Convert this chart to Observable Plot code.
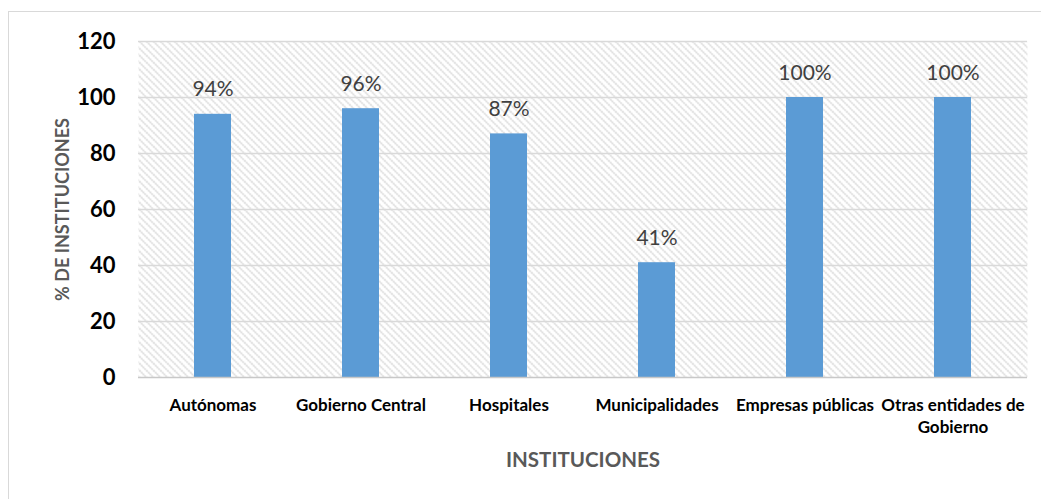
<!DOCTYPE html>
<html>
<head>
<meta charset="utf-8">
<script src="https://cdn.jsdelivr.net/npm/d3@7"></script>
<script src="https://cdn.jsdelivr.net/npm/@observablehq/plot@0.6"></script>
<style>
  html, body { margin: 0; padding: 0; background: #fff; overflow: hidden; }
  #wrap { position: relative; width: 1041px; height: 499px; overflow: hidden; }
  #border { position: absolute; left: 8px; top: 11px; width: 1200px; height: 700px; border: 1.5px solid #d9d9d9; }
  #chart { position: absolute; left: 0; top: 0; }
</style>
</head>
<body>
<div id="wrap"><div id="border"></div><div id="chart"></div></div>
<script>
const categories = ["Autónomas", "Gobierno Central", "Hospitales", "Municipalidades", "Empresas públicas", "Otras entidades de\nGobierno"];
const values = [94, 96, 87, 41, 100, 100];
const valueLabels = ["94%", "96%", "87%", "41%", "100%", "100%"];
const yTicks = [0, 20, 40, 60, 80, 100, 120];
const yTitle = "% DE INSTITUCIONES";
const xTitle = "INSTITUCIONES";

const data = categories.map((c, i) => ({cat: c, value: values[i], label: valueLabels[i]}));
const font = "Lato, 'Open Sans', sans-serif";

const chart = Plot.plot({
  width: 1041,
  height: 499,
  marginLeft: 138,
  marginRight: 14,
  marginTop: 41,
  marginBottom: 122,
  style: {background: "transparent", fontFamily: font, overflow: "visible"},
  x: {domain: categories, paddingInner: 0.75, paddingOuter: 0.375, align: 0.5},
  y: {domain: [0, 120]},
  marks: [
    Plot.frame({fill: "url(#hatch)", stroke: null}),
    Plot.gridY(yTicks.slice(1), {stroke: "#d9d9d9", strokeOpacity: 1, strokeWidth: 1.3}),
    Plot.barY(data, {x: "cat", y: "value", fill: "#5b9bd5"}),
    Plot.ruleY([0], {stroke: "#c8c8c8", strokeWidth: 1.5}),
    Plot.axisY(yTicks, {tickSize: 0, tickPadding: 23, fontSize: 22, fontWeight: "bold", fill: "#000", label: null}),
    Plot.axisX({ticks: [], label: null, tickSize: 0}),
    Plot.text(data, {x: "cat", y: 0, text: "cat", lineAnchor: "top", dy: 18, lineHeight: 1.3, fontSize: 17, fontWeight: "bold", fill: "#000"}),
    Plot.text(data, {x: "cat", y: "value", text: "label", lineAnchor: "bottom", dy: -18, fontSize: 21, fill: "#404040"}),
    Plot.text([yTitle], {frameAnchor: "left", textAnchor: "middle", dx: -75, dy: 0, rotate: -90, fontSize: 18, fontWeight: "bold", fill: "#595959"}),
    Plot.text([xTitle], {frameAnchor: "bottom", dy: 89, fontSize: 20.5, fontWeight: "bold", fill: "#595959"})
  ]
});

const ns = "http://www.w3.org/2000/svg";
const defs = document.createElementNS(ns, "defs");
defs.innerHTML = `<pattern id="hatch" patternUnits="userSpaceOnUse" width="7" height="7">
  <rect width="7" height="7" fill="#ffffff"/>
  <path d="M-1,-1 L8,8 M-1,6 L1,8 M6,-1 L8,1" stroke="#c0c0c0" stroke-width="1.2" stroke-dasharray="1.5,0.9"/>
</pattern>`;
chart.insertBefore(defs, chart.firstChild);
document.getElementById("chart").appendChild(chart);
</script>
</body>
</html>
